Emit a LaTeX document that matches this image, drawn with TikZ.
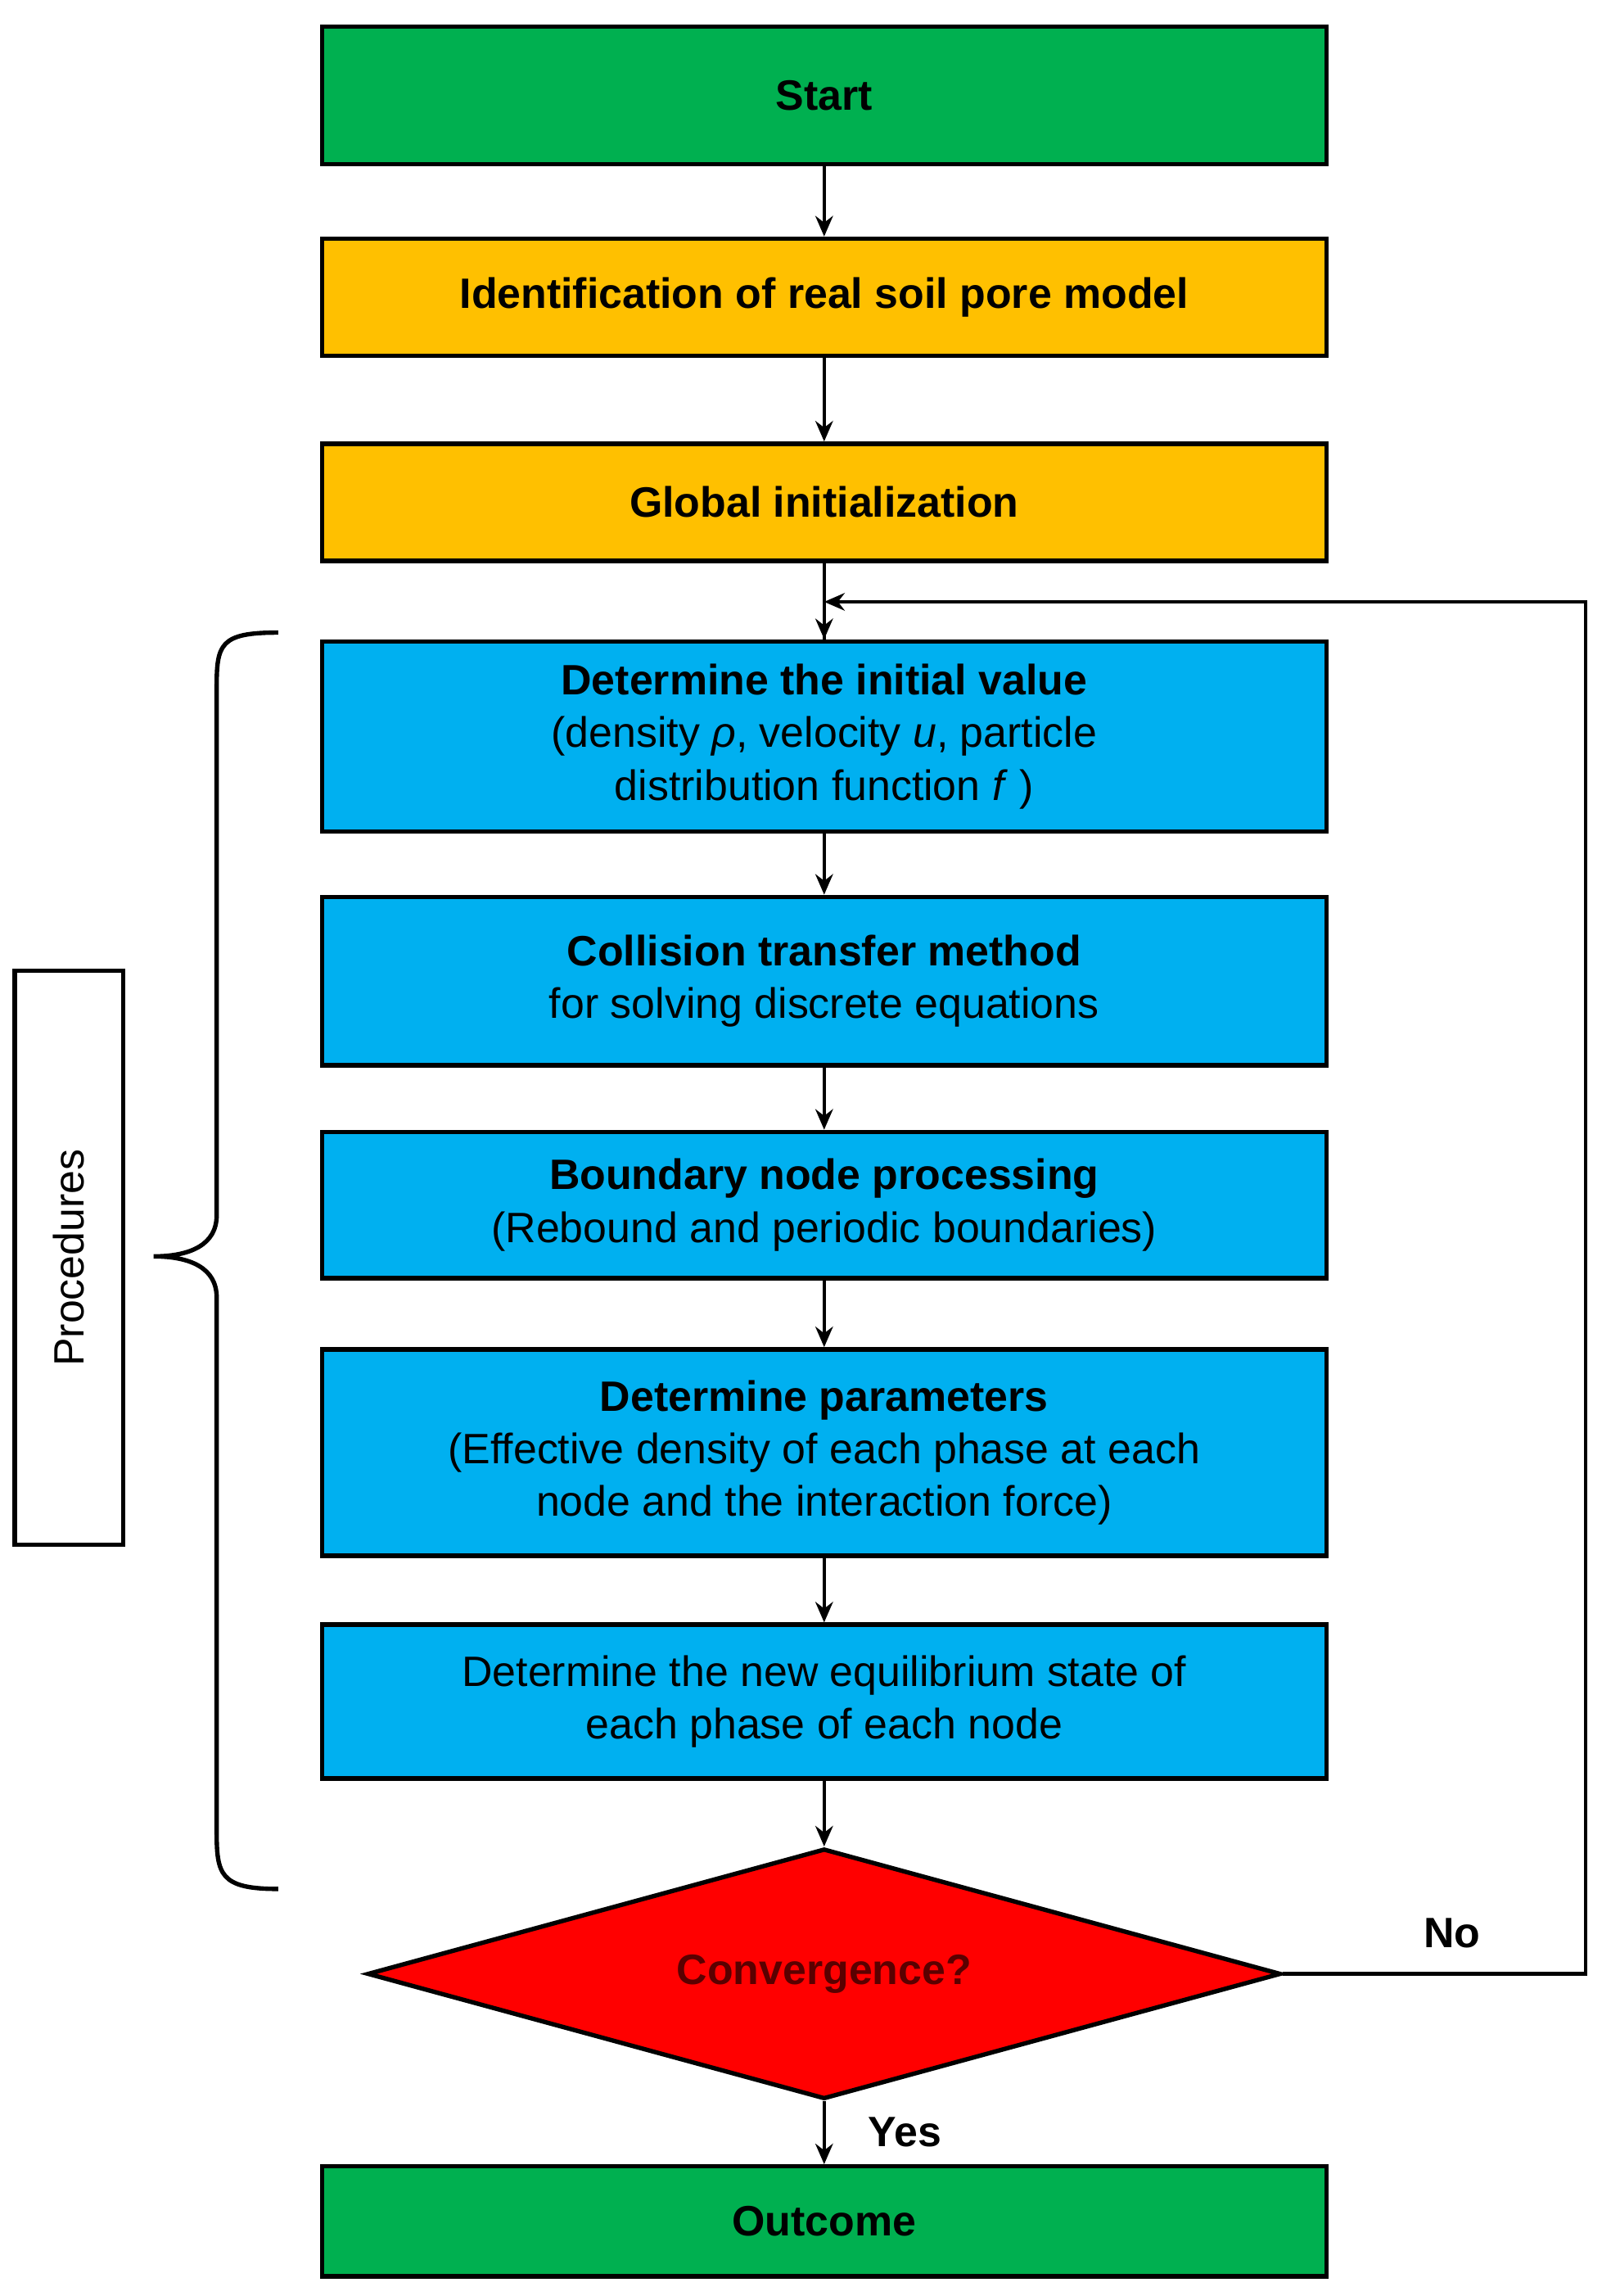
\documentclass[tikz,border=0pt]{standalone}
\usepackage{fontspec}
\setmainfont{Liberation Sans}
\usetikzlibrary{shapes.geometric,decorations.pathreplacing,arrows.meta}
\definecolor{cgreen}{HTML}{00B050}
\definecolor{corange}{HTML}{FFC000}
\definecolor{cblue}{HTML}{00B0F0}
\definecolor{cred}{HTML}{FF0000}
\definecolor{cdark}{HTML}{5A0000}
\begin{document}
\begin{tikzpicture}[x=0.5pt,y=-0.5pt,
  box/.style={draw=black,line width=1.5pt,minimum width=343pt,inner sep=2pt,align=center,font=\fontsize{14.5}{18}\selectfont},
  arr/.style={line width=1.2pt,-{Stealth[length=7pt,width=6pt]}}]
\useasboundingbox (0,0) rectangle (1100,1568);
\node[box,fill=cgreen,minimum height=47pt] (start) at (563,65) {\textbf{Start}};
\node[box,fill=corange,minimum height=40pt] (ident) at (563,203) {\textbf{Identification of real soil pore model}};
\node[box,fill=corange,minimum height=40pt] (glob) at (563,343) {\textbf{Global initialization}};
\node[box,fill=cblue,minimum height=65pt] (init) at (563,503) {\textbf{Determine the initial value}\\(density \textit{ρ}, velocity \textit{u}, particle\\distribution function \textit{f} )};
\node[box,fill=cblue,minimum height=57.5pt] (coll) at (563,670) {\textbf{Collision transfer method}\\for solving discrete equations};
\node[box,fill=cblue,minimum height=50pt] (bound) at (563,823) {\textbf{Boundary node processing}\\(Rebound and periodic boundaries)};
\node[box,fill=cblue,minimum height=70.5pt] (param) at (563,992) {\textbf{Determine parameters}\\(Effective density of each phase at each\\node and the interaction force)};
\node[box,fill=cblue,minimum height=52.5pt] (equi) at (563,1162) {Determine the new equilibrium state of\\each phase of each node};
\node[diamond,draw=black,line width=1.5pt,fill=cred,minimum width=312pt,minimum height=85.5pt,aspect=3.65,inner sep=0pt,font=\fontsize{14.5}{18}\selectfont\bfseries,text=cdark] (conv) at (563,1348) {Convergence?};
\node[box,fill=cgreen,minimum height=37.5pt] (out) at (563,1517) {\textbf{Outcome}};
\draw[arr] (start) -- (ident);
\draw[arr] (ident) -- (glob);
\draw[line width=1.2pt] (glob) -- (init);
\coordinate (loopin) at (563,411);
\draw[arr] (glob.south) -- (init.north);
\draw[arr] (init) -- (coll);
\draw[arr] (coll) -- (bound);
\draw[arr] (bound) -- (param);
\draw[arr] (param) -- (equi);
\draw[arr] (equi) -- (conv);
\draw[arr] (conv) -- (out);
\coordinate (c1) at (1083,1348);
\coordinate (c2) at (1083,411);
\draw[arr] (conv.east) -- (c1) -- (c2) -- (loopin);
\node[font=\fontsize{14.5}{18}\selectfont\bfseries] (no) at (992,1320) {No};
\node[font=\fontsize{14.5}{18}\selectfont\bfseries] (yes) at (618,1456) {Yes};
\coordinate (b1) at (190,432);
\coordinate (b2) at (190,1290);
\draw[line width=1.5pt] (b1) .. controls (150,432) and (148,440) .. (148,470) -- (148,830) .. controls (148,850) and (130,858) .. (105,858) .. controls (130,858) and (148,866) .. (148,886) -- (148,1250) .. controls (148,1280) and (150,1290) .. (b2);
\node[draw=black,line width=1.5pt,minimum width=37pt,minimum height=196pt,inner sep=0pt] (proc) at (47,859) {};
\node[rotate=90,font=\fontsize{14.5}{18}\selectfont] (proct) at (proc.center) {Procedures};
\end{tikzpicture}
\end{document}
